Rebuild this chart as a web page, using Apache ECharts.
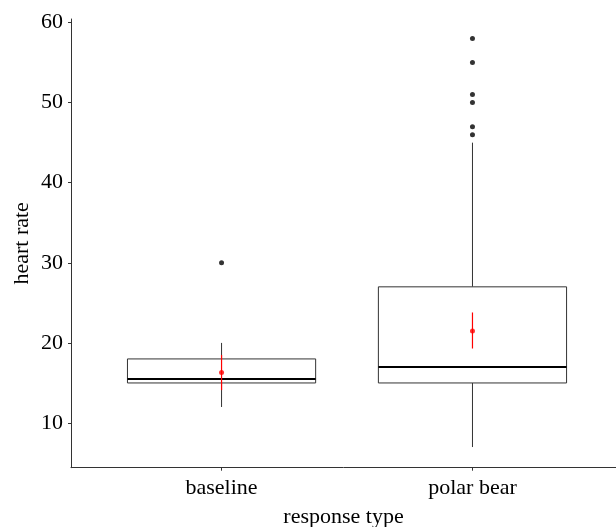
<!DOCTYPE html>
<html>
<head>
<meta charset="utf-8">
<script src="https://cdn.jsdelivr.net/npm/echarts@6/dist/echarts.min.js"></script>
<style>
    html, body { margin: 0; padding: 0; background: #fff; }
    #chart { width: 616px; height: 527px; }
</style>
</head>
<body>
<div id="chart"></div>
<script>
// data
const categories = ['baseline', 'polar bear'];
const catPos = [1, 2];
const whiskerLow = [12, 7];
const q1 = [15, 15];
const median = [15.5, 17];
const q3 = [18, 27];
const whiskerHigh = [20, 45];
const outliers = [[1, 30], [2, 46], [2, 47], [2, 50], [2, 51], [2, 55], [2, 58]];
const means = [16.3, 21.5];
const meanLow = [14.1, 19.3];
const meanHigh = [18.5, 23.8];
const yTicks = [10, 20, 30, 40, 50, 60];

const font = 'Liberation Serif';
const axisColor = '#333';

const boxData = catPos.map((x, i) => [x, whiskerLow[i], q1[i], median[i], q3[i], whiskerHigh[i]]);
const meanData = catPos.map((x, i) => [x, means[i]]);
const errData = catPos.map((x, i) => [x, meanLow[i], meanHigh[i]]);

function renderBox(params, api) {
    const x = api.value(0);
    const half = api.size([0.75, 0])[0] / 2;
    const lo = api.coord([x, api.value(1)]);
    const b = api.coord([x, api.value(2)]);
    const m = api.coord([x, api.value(3)]);
    const t = api.coord([x, api.value(4)]);
    const hi = api.coord([x, api.value(5)]);
    const thin = { stroke: axisColor, lineWidth: 1, fill: null };
    return {
        type: 'group',
        children: [
            { type: 'line', shape: { x1: lo[0], y1: lo[1], x2: b[0], y2: b[1] }, style: thin },
            { type: 'line', shape: { x1: t[0], y1: t[1], x2: hi[0], y2: hi[1] }, style: thin },
            {
                type: 'rect',
                shape: { x: b[0] - half, y: t[1], width: half * 2, height: b[1] - t[1] },
                style: { stroke: axisColor, lineWidth: 1, fill: '#fff' },
            },
            {
                type: 'line',
                shape: { x1: m[0] - half, y1: m[1], x2: m[0] + half, y2: m[1] },
                style: { stroke: '#000', lineWidth: 2 },
            },
        ],
    };
}

function renderErr(params, api) {
    const a = api.coord([api.value(0), api.value(1)]);
    const b = api.coord([api.value(0), api.value(2)]);
    return {
        type: 'line',
        shape: { x1: a[0], y1: a[1], x2: b[0], y2: b[1] },
        style: { stroke: '#ff0000', lineWidth: 1.2 },
    };
}

const chart = echarts.init(document.getElementById('chart'), null, { renderer: 'canvas' });

chart.setOption({
    backgroundColor: '#fff',
    animation: false,
    grid: { left: 71, right: 0, top: 19, bottom: 59.3, outerBoundsMode: 'none', containLabel: false },
    xAxis: {
        type: 'value',
        min: 0.4,
        max: 2.572, // panel runs past the picture's right edge
        name: 'response type',
        nameLocation: 'middle',
        nameGap: 39,
        nameMoveOverlap: false,
        nameTextStyle: { fontFamily: font, fontSize: 22, color: '#000' },
        splitLine: { show: false },
        axisLine: { lineStyle: { color: axisColor, width: 1 } },
        axisTick: { customValues: catPos, length: 3, lineStyle: { color: axisColor } },
        axisLabel: {
            customValues: catPos,
            margin: 10,
            fontFamily: font,
            fontSize: 22,
            color: '#000',
            formatter: v => categories[catPos.indexOf(v)],
        },
    },
    yAxis: {
        type: 'value',
        min: 4.42,
        max: 60.44,
        name: 'heart rate',
        nameLocation: 'middle',
        nameGap: 38,
        nameMoveOverlap: false,
        nameTextStyle: { fontFamily: font, fontSize: 22, color: '#000' },
        splitLine: { show: false },
        axisLine: { show: true, lineStyle: { color: axisColor, width: 1 } },
        axisTick: { show: true, customValues: yTicks, length: 3, lineStyle: { color: axisColor } },
        axisLabel: { customValues: yTicks, margin: 8, fontFamily: font, fontSize: 22, color: '#000' },
    },
    series: [
        {
            name: 'box',
            type: 'custom',
            renderItem: renderBox,
            data: boxData,
            encode: { x: 0, y: [1, 2, 3, 4, 5] },
            z: 2,
        },
        {
            name: 'outliers',
            type: 'scatter',
            data: outliers,
            symbolSize: 5,
            itemStyle: { color: '#000' },
            z: 3,
        },
        {
            name: 'mean error',
            type: 'custom',
            renderItem: renderErr,
            data: errData,
            encode: { x: 0, y: [1, 2] },
            z: 4,
        },
        {
            name: 'mean',
            type: 'scatter',
            data: meanData,
            symbolSize: 5,
            itemStyle: { color: '#ff0000' },
            z: 5,
        },
    ],
});

window.addEventListener('resize', function() {
    chart.resize();
});
</script>
</body>
</html>
